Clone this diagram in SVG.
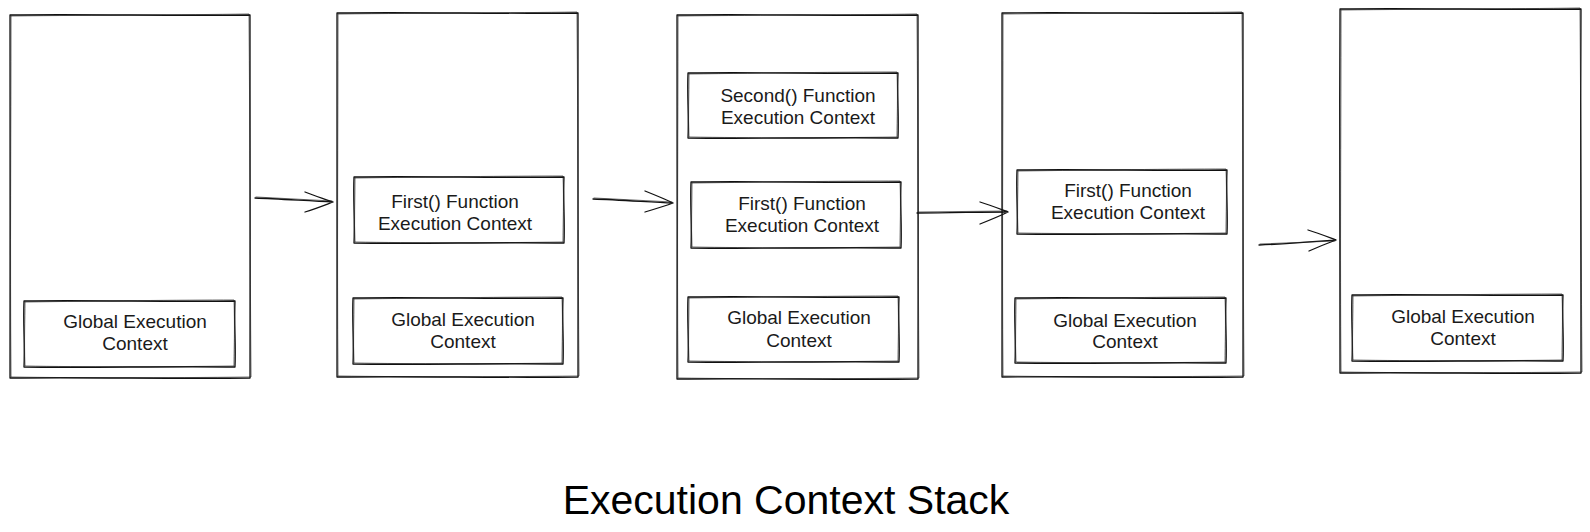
<svg xmlns="http://www.w3.org/2000/svg" width="1590" height="532" viewBox="0 0 1590 532">
<style>
.sk{fill:none;stroke:#111;stroke-width:1.3;stroke-linecap:round;stroke-linejoin:round}
.sk2{fill:none;stroke:#222;stroke-width:0.9;stroke-linecap:round;stroke-linejoin:round;opacity:0.75}
.lbl{font-family:"Liberation Sans",Arial,sans-serif;font-size:19px;fill:#1a1a1a;text-anchor:middle}
.title{font-family:"Liberation Sans",Arial,sans-serif;font-size:41px;fill:#000;text-anchor:middle}
</style>
<rect x="0" y="0" width="1590" height="532" fill="#fff"/>
<!-- Stack 1 -->
<g id="stack1">
<path class="sk" d="M10 15 C90 14 170 16 250 15 C249 130 251 260 250 378 C170 379 90 377 10 378 C11 260 9 130 10 15 Z"/>
<path class="sk2" d="M11 16 C100 15 180 15 249 14 C250 140 250 250 251 377 C160 378 80 378 11 377 C10 250 11 140 11 16"/>
</g>
<g id="global1">
<path class="sk" d="M24 301 C90 300 170 302 235 301 C234 323 236 345 235 367 C170 366 90 368 24 367 C25 345 23 323 24 301 Z"/>
<path class="sk2" d="M25 302 C100 301 180 300 234 300 C235 330 234 350 234 366 C160 367 80 367 25 366 C24 340 25 320 25 302"/>
<text class="lbl" x="135" y="328">Global Execution</text>
<text class="lbl" x="135" y="350">Context</text>
</g>
<!-- Stack 2 -->
<g id="stack2">
<path class="sk" d="M337 13 C420 12 500 14 578 13 C577 130 579 260 578 377 C500 378 420 376 337 377 C338 260 336 130 337 13 Z"/>
<path class="sk2" d="M338 14 C430 13 510 13 577 12 C578 140 578 250 579 376 C490 377 410 377 338 376 C337 250 338 140 338 14"/>
</g>
<g id="first2">
<path class="sk" d="M354 177 C420 176 500 178 564 177 C563 199 565 221 564 243 C500 242 420 244 354 243 C355 221 353 199 354 177 Z"/>
<path class="sk2" d="M355 178 C430 177 510 176 563 176 C564 200 563 225 563 242 C490 243 410 243 355 242 C354 220 355 200 355 178"/>
<text class="lbl" x="455" y="208">First() Function</text>
<text class="lbl" x="455" y="230">Execution Context</text>
</g>
<g id="global2">
<path class="sk" d="M353 298 C420 297 500 299 563 298 C562 320 564 342 563 364 C500 363 420 365 353 364 C354 342 352 320 353 298 Z"/>
<path class="sk2" d="M354 299 C430 298 510 297 562 297 C563 325 562 345 562 363 C490 364 410 364 354 363 C353 340 354 320 354 299"/>
<text class="lbl" x="463" y="326">Global Execution</text>
<text class="lbl" x="463" y="348">Context</text>
</g>
<!-- Stack 3 -->
<g id="stack3">
<path class="sk" d="M677 15 C760 14 840 16 918 15 C917 130 919 260 918 379 C840 380 760 378 677 379 C678 260 676 130 677 15 Z"/>
<path class="sk2" d="M678 16 C770 15 850 15 917 14 C918 140 918 250 919 378 C830 379 750 379 678 378 C677 250 678 140 678 16"/>
</g>
<g id="second3">
<path class="sk" d="M688 73 C760 72 830 74 898 73 C897 95 899 116 898 138 C830 137 760 139 688 138 C689 116 687 95 688 73 Z"/>
<path class="sk2" d="M689 74 C770 73 840 72 897 72 C898 100 897 120 897 137 C820 138 750 138 689 137 C688 115 689 95 689 74"/>
<text class="lbl" x="798" y="102">Second() Function</text>
<text class="lbl" x="798" y="124">Execution Context</text>
</g>
<g id="first3">
<path class="sk" d="M691 182 C760 181 830 183 901 182 C900 204 902 226 901 248 C830 247 760 249 691 248 C692 226 690 204 691 182 Z"/>
<path class="sk2" d="M692 183 C770 182 840 181 900 181 C901 205 900 230 900 247 C820 248 750 248 692 247 C691 225 692 205 692 183"/>
<text class="lbl" x="802" y="210">First() Function</text>
<text class="lbl" x="802" y="232">Execution Context</text>
</g>
<g id="global3">
<path class="sk" d="M688 297 C760 296 830 298 899 297 C898 319 900 341 899 362 C830 361 760 363 688 362 C689 341 687 319 688 297 Z"/>
<path class="sk2" d="M689 298 C770 297 840 296 898 296 C899 325 898 345 898 361 C820 362 750 362 689 361 C688 340 689 320 689 298"/>
<text class="lbl" x="799" y="324">Global Execution</text>
<text class="lbl" x="799" y="347">Context</text>
</g>
<!-- Stack 4 -->
<g id="stack4">
<path class="sk" d="M1002 13 C1080 12 1160 14 1243 13 C1242 130 1244 260 1243 377 C1160 378 1080 376 1002 377 C1003 260 1001 130 1002 13 Z"/>
<path class="sk2" d="M1003 14 C1090 13 1170 13 1242 12 C1243 140 1243 250 1244 376 C1150 377 1070 377 1003 376 C1002 250 1003 140 1003 14"/>
</g>
<g id="first4">
<path class="sk" d="M1017 170 C1090 169 1160 171 1227 170 C1226 192 1228 213 1227 234 C1160 233 1090 235 1017 234 C1018 213 1016 192 1017 170 Z"/>
<path class="sk2" d="M1018 171 C1100 170 1170 169 1226 169 C1227 195 1226 215 1226 233 C1150 234 1080 234 1018 233 C1017 212 1018 192 1018 171"/>
<text class="lbl" x="1128" y="197">First() Function</text>
<text class="lbl" x="1128" y="219">Execution Context</text>
</g>
<g id="global4">
<path class="sk" d="M1015 298 C1090 297 1160 299 1226 298 C1225 320 1227 342 1226 363 C1160 362 1090 364 1015 363 C1016 342 1014 320 1015 298 Z"/>
<path class="sk2" d="M1016 299 C1100 298 1170 297 1225 297 C1226 325 1225 345 1225 362 C1150 363 1080 363 1016 362 C1015 340 1016 320 1016 299"/>
<text class="lbl" x="1125" y="327">Global Execution</text>
<text class="lbl" x="1125" y="348">Context</text>
</g>
<!-- Stack 5 -->
<g id="stack5">
<path class="sk" d="M1340 9 C1420 8 1500 10 1581 9 C1580 130 1582 250 1581 373 C1500 374 1420 372 1340 373 C1341 250 1339 130 1340 9 Z"/>
<path class="sk2" d="M1341 10 C1430 9 1510 9 1580 8 C1581 140 1581 250 1582 372 C1490 373 1410 373 1341 372 C1340 250 1341 140 1341 10"/>
</g>
<g id="global5">
<path class="sk" d="M1352 295 C1420 294 1500 296 1563 295 C1562 317 1564 339 1563 361 C1500 360 1420 362 1352 361 C1353 339 1351 317 1352 295 Z"/>
<path class="sk2" d="M1353 296 C1430 295 1510 294 1562 294 C1563 320 1562 340 1562 360 C1490 361 1410 361 1353 360 C1352 340 1353 320 1353 296"/>
<text class="lbl" x="1463" y="323">Global Execution</text>
<text class="lbl" x="1463" y="345">Context</text>
</g>
<!-- Connectors -->
<g id="connectors">
<path class="sk" d="M255 198 C280 199 310 201 333 202 M305 192 C315 196 325 199 333 202 C325 205 315 209 305 212"/>
<path class="sk2" d="M256 197 L332 201"/>
<path class="sk" d="M593 199 C620 200 650 202 673 203 M645 191 C655 195 665 199 673 203 C665 206 655 209 645 212"/>
<path class="sk2" d="M594 198 L672 202"/>
<path class="sk" d="M917 213 C950 213 980 212 1008 212 M980 202 C990 205 1000 209 1008 212 C1000 216 990 220 980 224"/>
<path class="sk2" d="M918 212 L1007 211"/>
<path class="sk" d="M1259 245 C1285 244 1310 242 1336 240 M1308 230 C1318 233 1328 237 1336 240 C1328 243 1318 247 1309 251"/>
<path class="sk2" d="M1260 244 L1335 241"/>
</g>
<text class="title" x="786" y="514">Execution Context Stack</text>
</svg>
